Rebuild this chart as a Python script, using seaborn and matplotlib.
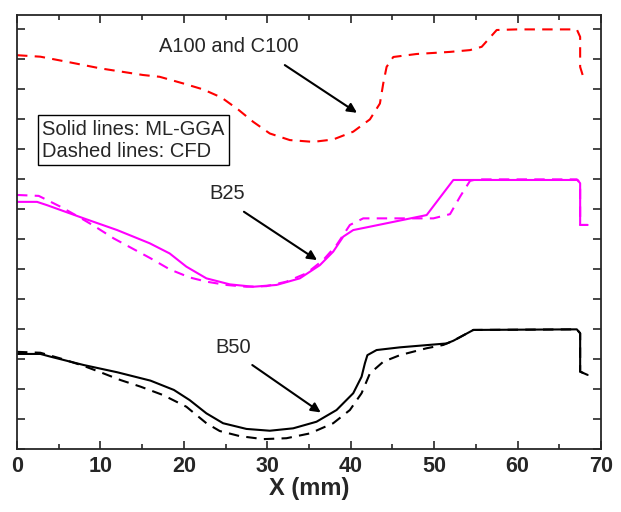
import pandas as pd                 # data frames for seaborn
import matplotlib.pyplot as plt     # plotting backend
import seaborn as sns               # line plots

# Profiles (y in arbitrary offset units, one tick = 1)
a100_cfd_x = [0, 2.8, 6.0, 10.0, 15.1, 17.1, 19.9, 22.3, 24.5, 26.5, 28.3, 30.3, 32.7, 35.5, 37.9,
              40.3, 42.3, 43.5, 43.9, 44.3, 45.1, 47.9, 51.9, 54.3, 55.7, 57.5, 59.9, 67.1, 67.5,
              67.5, 67.8]
a100_cfd_y = [13.13, 13.08, 12.91, 12.69, 12.47, 12.41, 12.19, 11.99, 11.72, 11.32, 10.91, 10.52,
              10.3, 10.24, 10.32, 10.58, 10.99, 11.52, 12.19, 12.74, 13.07, 13.17, 13.24, 13.3,
              13.41, 13.97, 13.99, 13.99, 13.74, 12.74, 12.47]

b25_ml_x = [0, 2.4, 3.6, 8.0, 12.0, 15.9, 18.3, 20.3, 22.7, 25.5, 28.3, 31.1, 33.9, 36.3, 37.9,
            39.1, 40.3, 41.9, 49.1, 52.3, 67.2, 67.5, 67.5, 68.4]
b25_ml_y = [8.24, 8.24, 8.13, 7.69, 7.3, 6.86, 6.52, 6.08, 5.69, 5.49, 5.41, 5.47, 5.69, 6.13, 6.58,
            7.08, 7.3, 7.39, 7.8, 8.97, 8.97, 8.86, 7.47, 7.47]

b25_cfd_x = [0, 2.6, 5.2, 7.4, 9.4, 11.6, 13.8, 16.0, 18.3, 20.7, 22.7, 25.1, 27.5, 29.9, 32.3,
             34.7, 36.7, 38.3, 39.9, 41.5, 49.9, 51.9, 53.1, 54.3, 55.1, 67.1, 67.5, 67.5, 68.4]
b25_cfd_y = [8.47, 8.44, 8.08, 7.74, 7.41, 7.02, 6.69, 6.36, 5.99, 5.72, 5.58, 5.47, 5.41, 5.43,
             5.58, 5.86, 6.3, 6.8, 7.47, 7.69, 7.69, 7.83, 8.41, 8.94, 8.99, 8.99, 8.86, 7.47, 7.47]

b50_ml_x = [0, 2.8, 4.0, 8.0, 12.0, 16.0, 18.8, 20.7, 22.7, 24.7, 27.5, 30.3, 33.1, 35.9, 38.3,
            40.3, 41.3, 41.7, 42.0, 43.1, 45.9, 51.5, 52.3, 54.7, 67.1, 67.5, 67.5, 68.4]
b50_ml_y = [3.17, 3.17, 3.08, 2.8, 2.56, 2.28, 1.97, 1.63, 1.19, 0.86, 0.67, 0.61, 0.69, 0.91, 1.3,
            1.86, 2.41, 2.86, 3.13, 3.3, 3.39, 3.52, 3.61, 3.97, 3.99, 3.86, 2.58, 2.47]

b50_cfd_x = [0, 2.8, 5.2, 8.0, 10.0, 12.4, 14.8, 17.5, 20.3, 22.7, 24.3, 26.7, 29.5, 32.3, 35.1,
             37.9, 39.9, 41.3, 42.3, 43.9, 45.9, 49.1, 51.1, 52.3, 54.7, 67.1, 67.5, 67.5, 68.4]
b50_cfd_y = [3.24, 3.21, 3.02, 2.77, 2.56, 2.3, 2.08, 1.8, 1.41, 0.86, 0.6, 0.43, 0.33, 0.36, 0.52,
             0.86, 1.3, 1.86, 2.52, 2.91, 3.13, 3.36, 3.47, 3.61, 3.97, 3.99, 3.86, 2.58, 2.47]

x_ticks = [0, 10, 20, 30, 40, 50, 60, 70]

# Global style
sns.set_style('ticks')
plt.rcParams['font.family'] = ['Liberation Sans', 'DejaVu Sans']
plt.rcParams['xtick.direction'] = 'in'
plt.rcParams['ytick.direction'] = 'in'

fig = plt.figure(figsize=(6.21, 5.12), dpi=100)
ax = fig.add_axes([0.0274, 0.123, 0.9404, 0.8477])

DASH = (5, 3.5)
series = [
    (a100_cfd_x, a100_cfd_y, '#ff0000', DASH),
    (b25_cfd_x, b25_cfd_y, '#ff00ff', DASH),
    (b25_ml_x, b25_ml_y, '#ff00ff', None),
    (b50_cfd_x, b50_cfd_y, 'black', DASH),
    (b50_ml_x, b50_ml_y, 'black', None),
]
for xs, ys, color, dash in series:
    df = pd.DataFrame({'x': xs, 'y': ys})
    sns.lineplot(data=df, x='x', y='y', sort=False, estimator=None,
                 color=color, linewidth=1.5, ax=ax)
    ax.lines[-1].set_solid_joinstyle('round')
    if dash is not None:
        ax.lines[-1].set_dashes(dash)

ax.set_xlim(0, 70)
ax.set_ylim(0, 14.47)
ax.set_xticks(x_ticks)
ax.set_xticks(range(5, 70, 10), minor=True)
ax.set_yticks(range(0, 15))
ax.set_yticklabels([])
ax.tick_params(which='both', top=True, right=True, width=1.2, labelsize=15.5, pad=5)
ax.tick_params(which='major', length=6)
ax.tick_params(which='minor', length=3.5)
for lab in ax.get_xticklabels():
    lab.set_fontweight('bold')
for side in ax.spines.values():
    side.set_linewidth(1.3)
ax.set_xlabel('X (mm)', fontsize=17, fontweight='bold', labelpad=0)
ax.set_ylabel('')

# Annotations with arrows
arrow = dict(arrowstyle='-|>', color='black', lw=1.5, mutation_scale=14, shrinkA=0, shrinkB=0)
ax.annotate('', xy=(40.75, 11.21), xytext=(32.1, 12.8), arrowprops=arrow)
ax.text(25.4, 13.43, 'A100 and C100', fontsize=14.5, ha='center', va='center')
ax.annotate('', xy=(35.96, 6.3), xytext=(27.2, 7.91), arrowprops=arrow)
ax.text(25.2, 8.53, 'B25', fontsize=14.5, ha='center', va='center')
ax.annotate('', xy=(36.4, 1.22), xytext=(28.2, 2.8), arrowprops=arrow)
ax.text(25.9, 3.4, 'B50', fontsize=14.5, ha='center', va='center')

ax.text(3.0, 10.3, 'Solid lines: ML-GGA\nDashed lines: CFD', fontsize=14.5, ha='left', va='center',
        linespacing=1.2,
        bbox=dict(boxstyle='square,pad=0.22', facecolor='white', edgecolor='black', linewidth=1.0))

plt.savefig('out.png', dpi=100)
